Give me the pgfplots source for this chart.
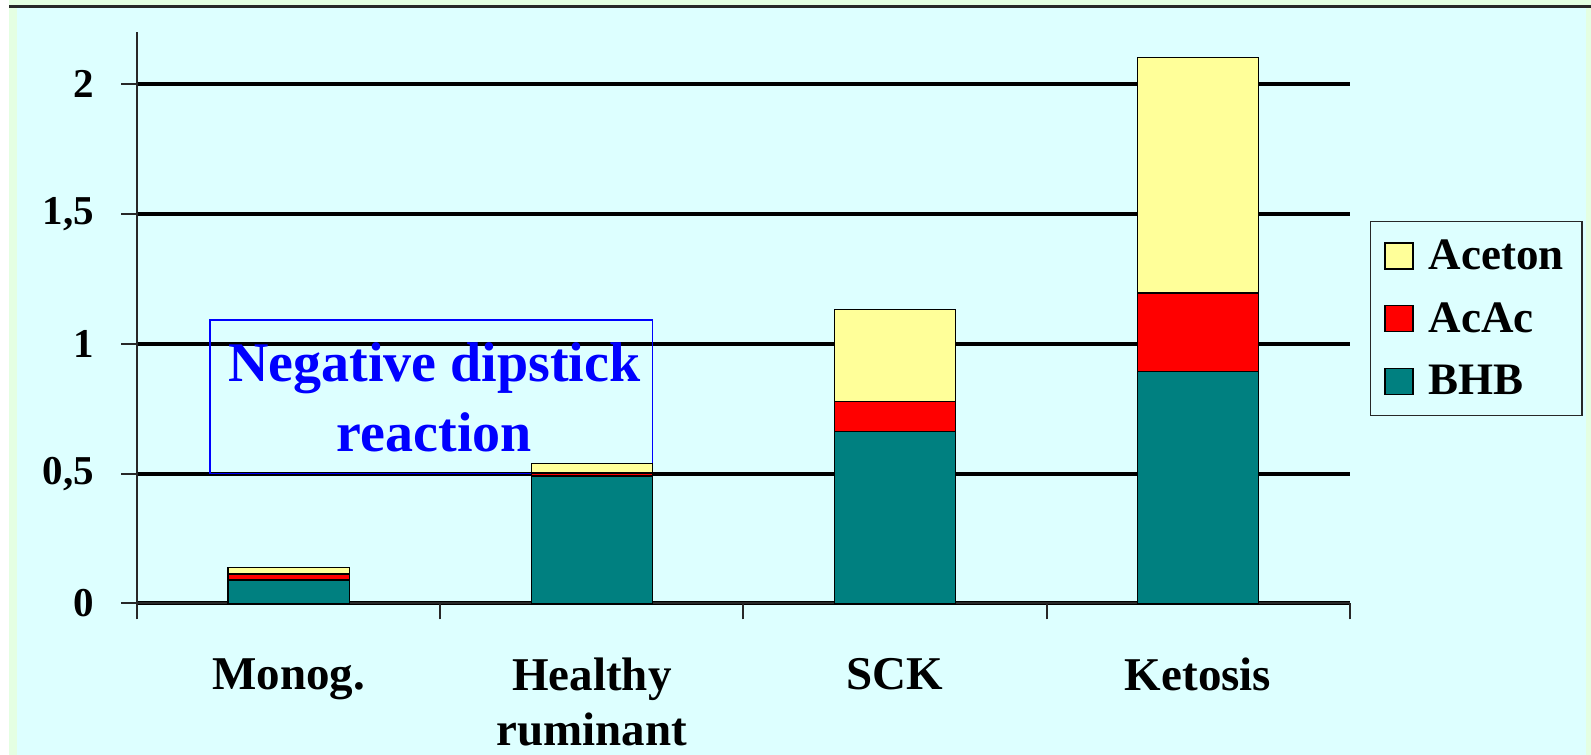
\documentclass[border=0pt]{standalone}
\usepackage{fontspec}
\setmainfont{Liberation Serif}
\usepackage{pgfplots}
\pgfplotsset{compat=1.18}
\definecolor{bgc}{RGB}{221,255,255}
\definecolor{lgreen}{RGB}{228,255,226}
\definecolor{bhb}{RGB}{0,128,128}
\definecolor{acac}{RGB}{255,0,0}
\definecolor{aceton}{RGB}{255,255,153}
\definecolor{axgray}{RGB}{40,40,40}
\begin{document}
\begin{tikzpicture}[x=1pt,y=1pt]
\fill[white] (0,0) rectangle (795.5,377.5);
\fill[lgreen] (4.5,0) rectangle (795.5,377.5);
\fill[bgc] (8.5,0) rectangle (793,373.5);
\draw[line width=1.5pt, axgray] (4.5,374.3) -- (795.5,374.3);
\begin{axis}[
  at={(68.65pt,75.85pt)}, anchor=south west,
  scale only axis, width=606.15pt, height=285.4pt,
  xmin=-0.5, xmax=3.5, ymin=0, ymax=2.2,
  ybar stacked, bar width=0.4,
  axis x line*=bottom, axis y line*=left,
  axis line style={axgray, line width=1pt},
  tick style={axgray, line width=1pt},
  tick align=outside,
  major tick length=8pt, minor tick length=8pt,
  xtick={0,1,2,3},
  xticklabels={Monog., Healthy\\ruminant, SCK, Ketosis},
  major x tick style={draw=none},
  minor xtick={-0.5,0.5,1.5,2.5,3.5},
  ytick={0,0.5,1,1.5,2},
  ymajorgrids,
  grid style={black, line width=2pt},
  /pgf/number format/.cd, use comma, assume math mode=true,
  /pgfplots/.cd,
  yticklabel style={font=\fontsize{20.5}{20.5}\selectfont\bfseries, xshift=-10pt},
  xticklabel style={font=\fontsize{23.5}{27.5}\selectfont\bfseries, align=center, anchor=north, yshift=-16pt},
  legend style={at={(axis description cs:1,0.67)}, anchor=north west, xshift=10pt,
    draw=axgray, line width=0.75pt, fill=none,
    font=\fontsize{22.5}{22.5}\selectfont\bfseries,
    row sep=11pt, inner xsep=7pt, inner ysep=7pt},
  legend cell align=left,
  reverse legend,
  legend image code/.code={\draw[#1, draw=black, line width=0.75pt] (1pt,-6.5pt) rectangle (15pt,6.5pt); \path (20.5pt,0pt);},
  clip=false,
]
\addplot[fill=bhb, draw=black, line width=0.75pt] coordinates {(0,0.09) (1,0.49) (2,0.663) (3,0.893)};
\addplot[fill=acac, draw=black, line width=0.75pt] coordinates {(0,0.023) (1,0.013) (2,0.115) (3,0.303)};
\addplot[fill=aceton, draw=black, line width=0.75pt] coordinates {(0,0.025) (1,0.035) (2,0.355) (3,0.907)};
\legend{BHB, AcAc, Aceton}
\draw[blue, line width=0.75pt] (axis cs:-0.26,0.5) rectangle (axis cs:1.2,1.092);
\node[text=blue, align=center, font=\fontsize{28}{35}\selectfont\bfseries] at (axis cs:0.48,0.793) {Negative dipstick\\reaction};
\end{axis}
\pgfresetboundingbox
\path[use as bounding box] (0,0) rectangle (795.5,377.5);
\end{tikzpicture}
\end{document}
